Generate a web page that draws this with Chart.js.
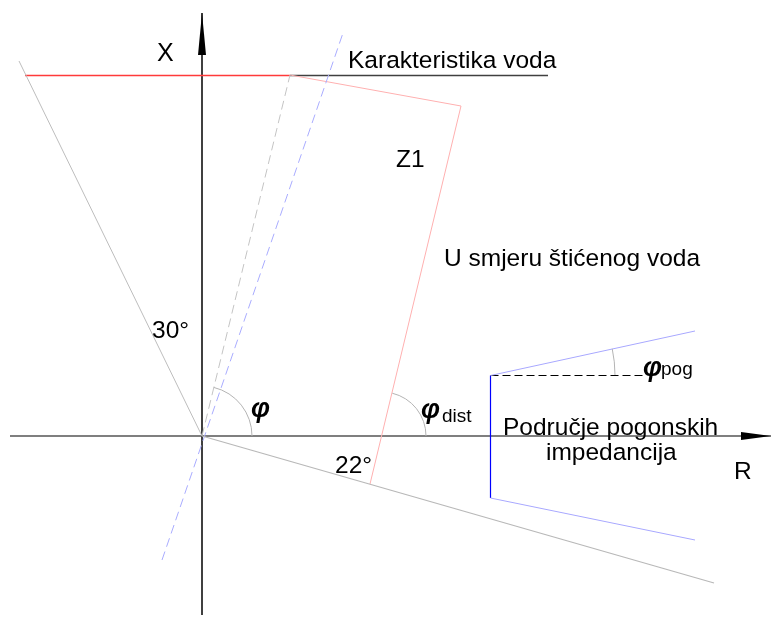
<!DOCTYPE html>
<html>
<head>
<meta charset="utf-8">
<script src="https://cdn.jsdelivr.net/npm/chart.js@4"></script>
<style>
  body { margin: 0; background: #fff; }
  canvas { display: block; }
</style>
</head>
<body>
<canvas id="myChart" width="771" height="617"></canvas>
<script>
'use strict';
// R-X plane, origin where the axes cross
const rAxis = [{x: -192, y: 0}, {x: 569, y: 0}];
const xAxis = [{x: 0, y: -179}, {x: 0, y: 423}];
const lineChar = [{x: -177, y: 360.5}, {x: 88, y: 360.5}];
const lineCharTail = [{x: 88, y: 360.5}, {x: 346, y: 360.5}];
const limit30 = [{x: -183, y: 375}, {x: 0, y: 0}];
const limit22 = [{x: 0, y: 0}, {x: 512, y: -147}];
const zone1 = [{x: 88, y: 361}, {x: 259, y: 330}, {x: 168, y: -48}];
const impedanceLine = [{x: 0, y: 0}, {x: 88, y: 361}];
const relayAngle = [{x: -40, y: -124}, {x: 141, y: 403}];
const loadEdge = [{x: 288.5, y: 60.5}, {x: 288.5, y: -62}];
const loadUpper = [{x: 288.5, y: 60.5}, {x: 493, y: 105}];
const loadLower = [{x: 288.5, y: -62}, {x: 493, y: -104}];
const loadRef = [{x: 288.5, y: 60.5}, {x: 441, y: 60.5}];

// arcs: centre, radius, start/end angle in degrees
const arcs = [
  {cx: 0, cy: 0, r: 50, a0: 0, a1: 76.3},
  {cx: 180, cy: 0, r: 44, a0: 0, a1: 76.5},
  {cx: 288, cy: 61, r: 125, a0: 0, a1: 12.1}
];
// arrow heads: tip, direction and size
const arrows = [
  {x: 0, y: 423, dir: 'up', len: 42, half: 4},
  {x: 569, y: 0, dir: 'right', len: 30, half: 4}
];
// text: left edge, baseline ('m' = vertical middle)
const labels = [
  {t: 'X', x: -45, y: 375, size: 25},
  {t: 'Karakteristika voda', x: 146, y: 368, size: 24.5},
  {t: 'Z1', x: 194, y: 269, size: 24.5},
  {t: 'U smjeru štićenog voda', x: 242, y: 170, size: 24.5},
  {t: '30°', x: -50, y: 98, size: 24.5},
  {t: 'φ', x: 49, y: 26, size: 27, italic: true, m: true},
  {t: 'φ', x: 219, y: 25, size: 27, italic: true, m: true},
  {t: 'dist', x: 240, y: 14, size: 19},
  {t: '22°', x: 133, y: -37, size: 24.5},
  {t: 'φ', x: 441, y: 67, size: 27, italic: true, m: true},
  {t: 'pog', x: 459, y: 61, size: 19},
  {t: 'Područje pogonskih', x: 301, y: 1, size: 24.5},
  {t: 'impedancija', x: 344, y: -24, size: 24.5},
  {t: 'R', x: 532, y: -43, size: 24.5}
];

function line(data, color, width, dash) {
  return {
    data: data,
    showLine: true,
    borderColor: color,
    borderWidth: width,
    borderDash: dash || [],
    pointRadius: 0,
    fill: false,
    tension: 0
  };
}

const extras = {
  id: 'extras',
  afterDatasetsDraw(chart) {
    const ctx = chart.ctx;
    const sx = chart.scales.x;
    const sy = chart.scales.y;
    const unit = sx.getPixelForValue(1) - sx.getPixelForValue(0);
    ctx.save();
    // arcs
    ctx.strokeStyle = '#b4b4b4';
    ctx.lineWidth = 1;
    for (let i = 0; i < arcs.length; i++) {
      const a = arcs[i];
      ctx.beginPath();
      ctx.arc(sx.getPixelForValue(a.cx), sy.getPixelForValue(a.cy), a.r * unit,
        -a.a1 * Math.PI / 180, -a.a0 * Math.PI / 180);
      ctx.stroke();
    }
    // arrow heads
    ctx.fillStyle = '#000';
    for (let i = 0; i < arrows.length; i++) {
      const a = arrows[i];
      const px = sx.getPixelForValue(a.x);
      const py = sy.getPixelForValue(a.y);
      ctx.beginPath();
      if (a.dir === 'up') {
        ctx.moveTo(px, py);
        ctx.lineTo(px - a.half, py + a.len);
        ctx.lineTo(px + a.half, py + a.len);
      } else {
        ctx.moveTo(px, py);
        ctx.lineTo(px - a.len, py - a.half);
        ctx.lineTo(px - a.len, py + a.half);
      }
      ctx.closePath();
      ctx.fill();
    }
    // texts
    ctx.fillStyle = '#000';
    ctx.textAlign = 'left';
    for (let i = 0; i < labels.length; i++) {
      const l = labels[i];
      ctx.textBaseline = l.m ? 'middle' : 'alphabetic';
      ctx.font = (l.italic ? 'italic bold ' : '') + l.size + 'px "Liberation Sans", Arial, sans-serif';
      ctx.fillText(l.t, sx.getPixelForValue(l.x), sy.getPixelForValue(l.y));
    }
    ctx.restore();
  }
};

const ctx = document.getElementById('myChart').getContext('2d');
const chart = new Chart(ctx, {
  type: 'scatter',
  data: {
    datasets: [
      line(limit30, '#bdbdbd', 1),
      line(limit22, '#b8b8b8', 1.2),
      line(impedanceLine, '#c4c4c4', 1, [9, 5]),
      line(relayAngle, '#a9acff', 1, [9, 5]),
      line(zone1, '#ffb0b0', 1),
      line(loadUpper, '#a8a8ff', 1),
      line(loadLower, '#a8a8ff', 1),
      line(loadRef, '#000000', 1, [8, 4]),
      line(loadEdge, '#0000ff', 1.2),
      line(lineCharTail, '#404040', 1.3),
      line(lineChar, '#ff3a3a', 1.3),
      line(rAxis, '#555555', 1.6),
      line(xAxis, '#000000', 1.5)
    ]
  },
  options: {
    responsive: false,
    animation: false,
    devicePixelRatio: 1,
    layout: {padding: 0},
    scales: {
      x: {type: 'linear', display: false, min: -202, max: 569},
      y: {type: 'linear', display: false, min: -181, max: 436}
    },
    plugins: {
      legend: {display: false},
      tooltip: {enabled: false}
    }
  },
  plugins: [extras]
});
</script>
</body>
</html>
